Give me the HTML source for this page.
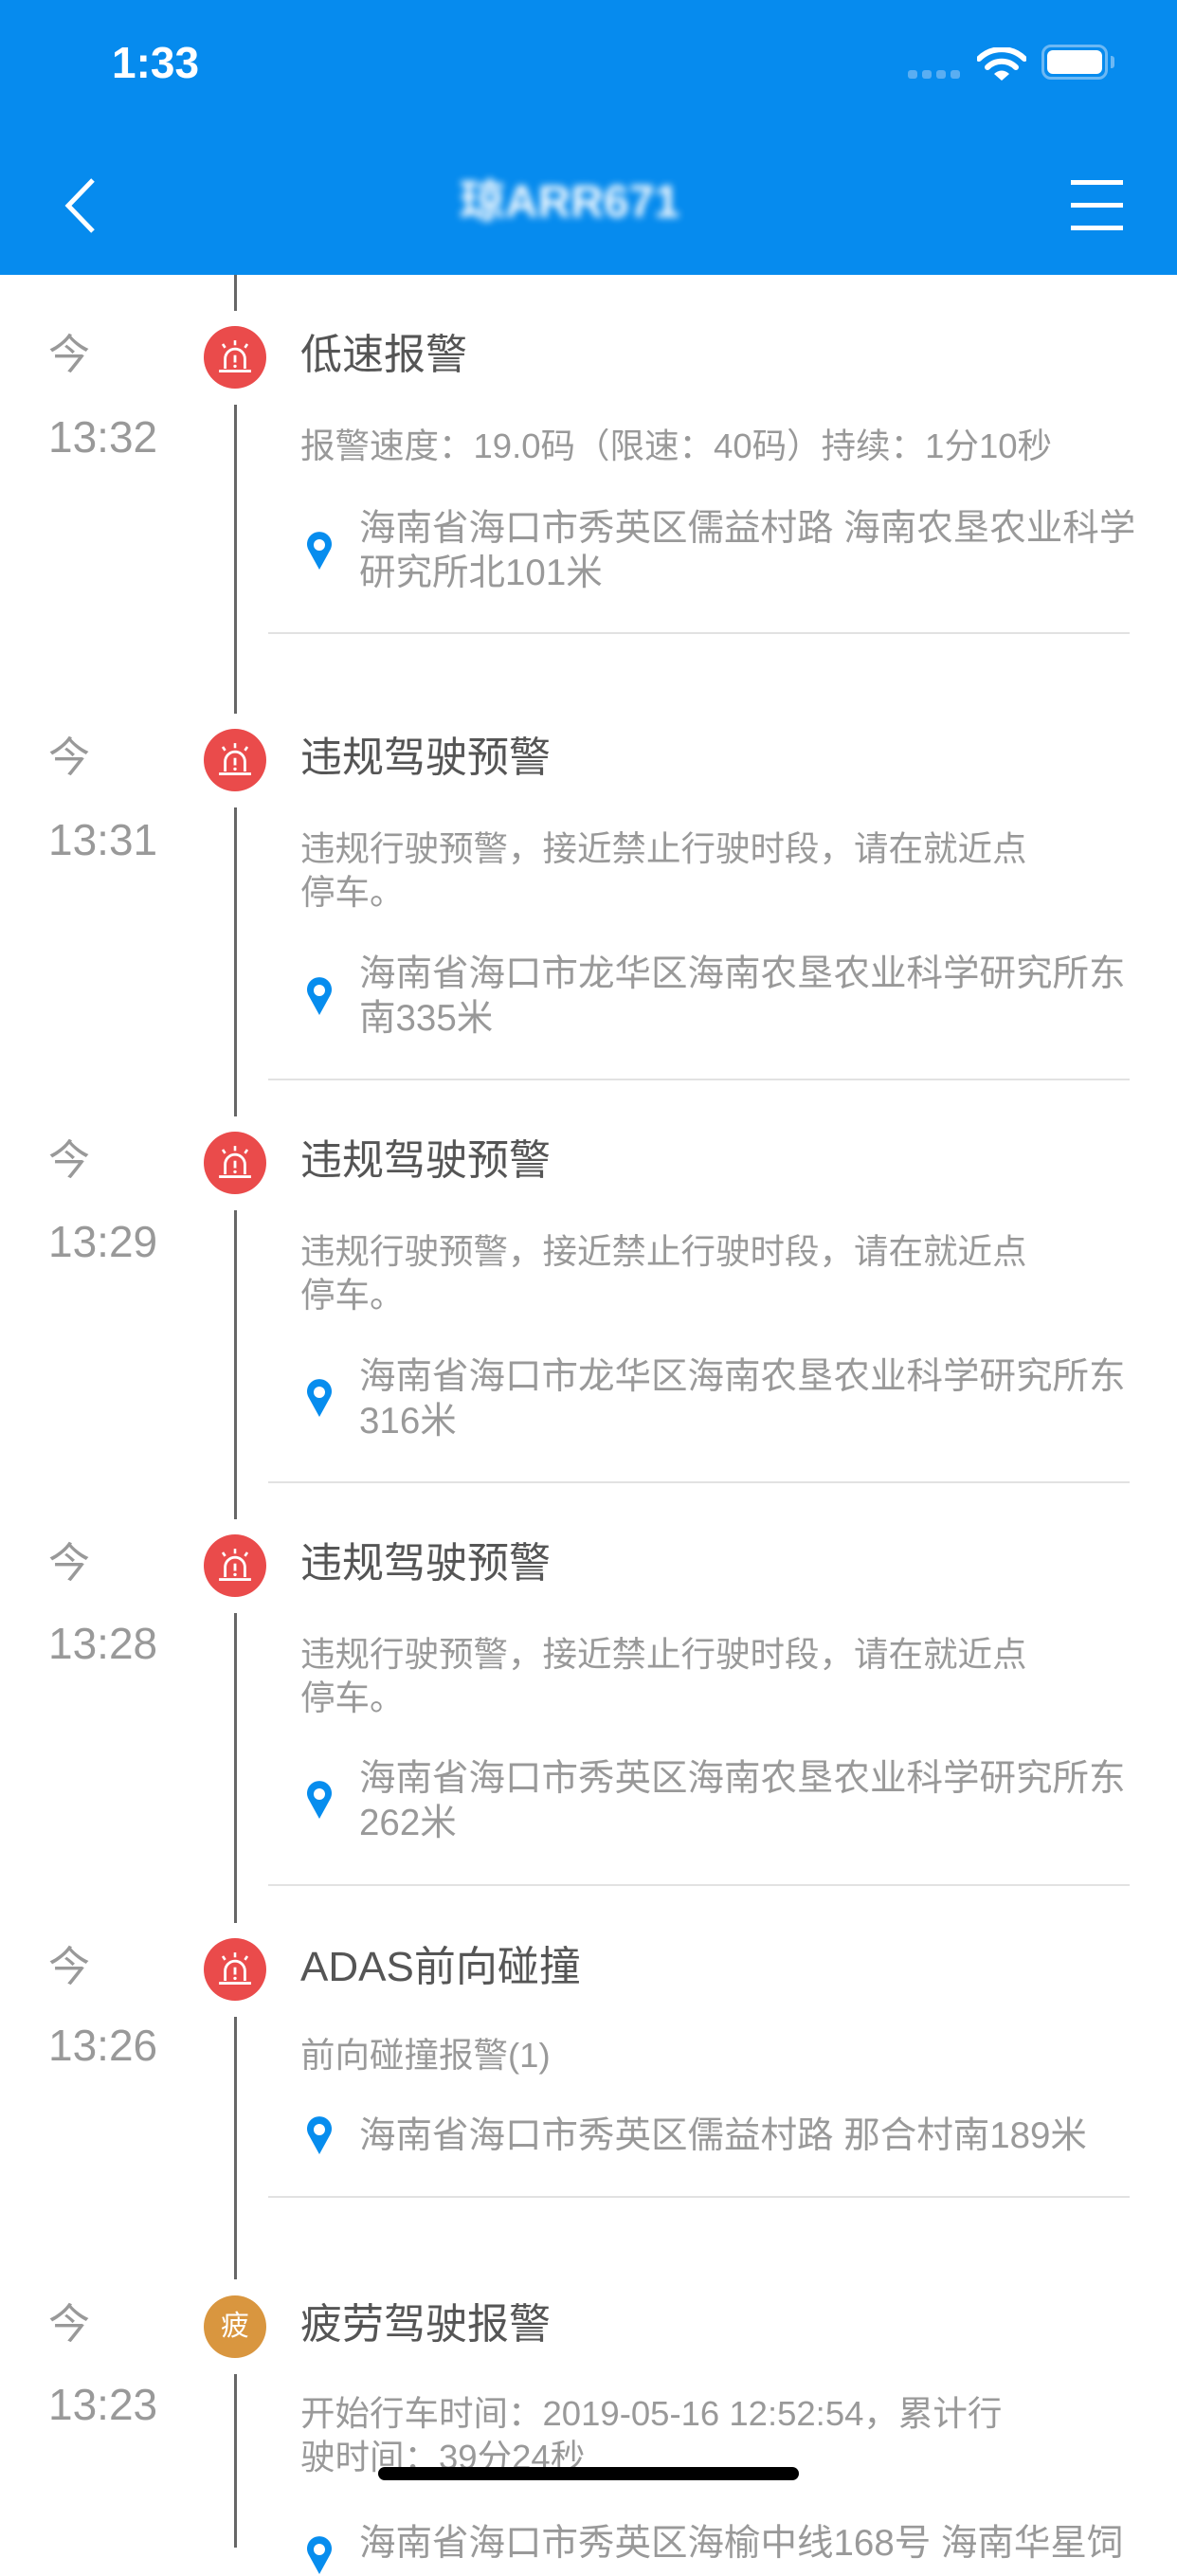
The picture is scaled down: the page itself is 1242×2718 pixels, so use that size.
<!DOCTYPE html>
<html><head><meta charset="utf-8"><style>
*{margin:0;padding:0;box-sizing:border-box}
body{width:1242px;height:2688px;background:#fff;position:relative;overflow:hidden;font-family:"Liberation Sans","Noto Sans CJK SC",sans-serif}
.hdr{position:absolute;left:0;top:0;width:1242px;height:290px;background:#068BEE}
.abs{position:absolute;white-space:nowrap}
.vl{position:absolute;left:247px;width:3px;background:#666}
.dot{position:absolute;left:215px;width:66px;height:66px;border-radius:50%;background:#EA4B4B}
.dot svg{position:absolute;left:7px;top:6px}
.jin{left:51px;font-size:44px;color:#999;line-height:60px}
.tm{left:51px;font-size:46px;color:#999;line-height:60px}
.tt{left:317px;font-size:44px;color:#555;line-height:60px}
.ds{left:317px;font-size:36.5px;color:#999;line-height:46px}
.ad{left:379px;font-size:38.5px;color:#999;line-height:47px}
.dv{position:absolute;left:283px;width:909px;height:2px;background:#e2e2e2}
.pin{position:absolute;left:323px}
</style></head><body>
<div class="hdr">
  <div class="abs" style="left:118px;top:36px;font-size:46px;color:#fff;line-height:60px;font-weight:bold">1:33</div>
  <div class="abs" style="left:958px;top:74px;width:10px;height:9px;border-radius:3px;background:#5aaef2"></div>
  <div class="abs" style="left:973px;top:74px;width:10px;height:9px;border-radius:3px;background:#5aaef2"></div>
  <div class="abs" style="left:988px;top:74px;width:10px;height:9px;border-radius:3px;background:#5aaef2"></div>
  <div class="abs" style="left:1003px;top:74px;width:10px;height:9px;border-radius:3px;background:#5aaef2"></div>
  <svg class="abs" style="left:1031px;top:50px" width="52" height="36" viewBox="0 0 52 36">
    <path d="M2 12 A34 34 0 0 1 50 12" stroke="#fff" stroke-width="6" fill="none" stroke-linecap="round"/>
    <path d="M11 21 A21 21 0 0 1 41 21" stroke="#fff" stroke-width="6" fill="none" stroke-linecap="round"/>
    <path d="M18 28 L26 35 L34 28 A11 11 0 0 0 18 28Z" fill="#fff"/>
  </svg>
  <div class="abs" style="left:1099px;top:47px;width:70px;height:37px;border:3px solid #6cb8f4;border-radius:10px"></div>
  <div class="abs" style="left:1105px;top:53px;width:58px;height:25px;background:#fff;border-radius:6px"></div>
  <div class="abs" style="left:1172px;top:59px;width:4px;height:13px;background:#6cb8f4;border-radius:0 3px 3px 0"></div>
  <svg class="abs" style="left:64px;top:186px" width="40" height="62"><path d="M34 4 L8 31 L34 58" stroke="#fff" stroke-width="5" fill="none"/></svg>
  <div class="abs" style="left:485px;top:184px;font-size:48px;color:#fff;line-height:60px;filter:blur(4px);font-weight:bold">琼ARR671</div>
  <div class="abs" style="left:1130px;top:190px;width:55px;height:5px;background:#fff"></div>
  <div class="abs" style="left:1130px;top:214px;width:55px;height:5px;background:#fff"></div>
  <div class="abs" style="left:1130px;top:238px;width:55px;height:5px;background:#fff"></div>
</div>

<div class="vl" style="top:290px;height:38px"></div>
<div class="vl" style="top:427px;height:326px"></div>
<div class="vl" style="top:852px;height:326px"></div>
<div class="vl" style="top:1277px;height:326px"></div>
<div class="vl" style="top:1702px;height:327px"></div>
<div class="vl" style="top:2128px;height:277px"></div>
<div class="vl" style="top:2505px;height:183px"></div>

<svg width="0" height="0" style="position:absolute"><defs><g id="sr">
<path d="M12 30 V22 A8 8 0 0 1 28 22 V30" stroke="#fff" stroke-width="2.2" fill="none"/>
<line x1="20" y1="19" x2="20" y2="25" stroke="#fff" stroke-width="2.2"/>
<circle cx="20" cy="28" r="1.3" fill="#fff"/>
<line x1="7" y1="32" x2="33" y2="32" stroke="#fff" stroke-width="2.2"/>
<line x1="20" y1="7" x2="20" y2="11" stroke="#fff" stroke-width="2"/>
<line x1="10" y1="10" x2="12" y2="13" stroke="#fff" stroke-width="2"/>
<line x1="30" y1="10" x2="28" y2="13" stroke="#fff" stroke-width="2"/>
</g>
<g id="pn"><path d="M14 40 L3 20 A13 13 0 1 1 25 20 Z" fill="#078DEE"/><circle cx="14" cy="14" r="6" fill="#fff"/></g>
</defs></svg>

<div class="abs jin" style="top:345px">今</div>
<div class="dot" style="top:344px"><svg width="52" height="52" viewBox="0 0 40 40"><use href="#sr"/></svg></div>
<div class="abs tt" style="top:345px">低速报警</div>
<div class="abs tm" style="top:431px">13:32</div>
<div class="abs ds" style="top:448px">报警速度：19.0码（限速：40码）持续：1分10秒</div>
<svg class="pin" style="top:561px" width="28" height="42"><use href="#pn"/></svg>
<div class="abs ad" style="top:534px">海南省海口市秀英区儒益村路 海南农垦农业科学<br>研究所北101米</div>
<div class="dv" style="top:667px"></div>

<div class="abs jin" style="top:770px">今</div>
<div class="dot" style="top:769px"><svg width="52" height="52" viewBox="0 0 40 40"><use href="#sr"/></svg></div>
<div class="abs tt" style="top:770px">违规驾驶预警</div>
<div class="abs tm" style="top:856px">13:31</div>
<div class="abs ds" style="top:873px">违规行驶预警，接近禁止行驶时段，请在就近点<br>停车。</div>
<svg class="pin" style="top:1031px" width="28" height="42"><use href="#pn"/></svg>
<div class="abs ad" style="top:1004px">海南省海口市龙华区海南农垦农业科学研究所东<br>南335米</div>
<div class="dv" style="top:1138px"></div>

<div class="abs jin" style="top:1195px">今</div>
<div class="dot" style="top:1194px"><svg width="52" height="52" viewBox="0 0 40 40"><use href="#sr"/></svg></div>
<div class="abs tt" style="top:1195px">违规驾驶预警</div>
<div class="abs tm" style="top:1280px">13:29</div>
<div class="abs ds" style="top:1298px">违规行驶预警，接近禁止行驶时段，请在就近点<br>停车。</div>
<svg class="pin" style="top:1455px" width="28" height="42"><use href="#pn"/></svg>
<div class="abs ad" style="top:1429px">海南省海口市龙华区海南农垦农业科学研究所东<br>316米</div>
<div class="dv" style="top:1563px"></div>

<div class="abs jin" style="top:1620px">今</div>
<div class="dot" style="top:1619px"><svg width="52" height="52" viewBox="0 0 40 40"><use href="#sr"/></svg></div>
<div class="abs tt" style="top:1620px">违规驾驶预警</div>
<div class="abs tm" style="top:1704px">13:28</div>
<div class="abs ds" style="top:1723px">违规行驶预警，接近禁止行驶时段，请在就近点<br>停车。</div>
<svg class="pin" style="top:1879px" width="28" height="42"><use href="#pn"/></svg>
<div class="abs ad" style="top:1853px">海南省海口市秀英区海南农垦农业科学研究所东<br>262米</div>
<div class="dv" style="top:1988px"></div>

<div class="abs jin" style="top:2046px">今</div>
<div class="dot" style="top:2045px"><svg width="52" height="52" viewBox="0 0 40 40"><use href="#sr"/></svg></div>
<div class="abs tt" style="top:2046px">ADAS前向碰撞</div>
<div class="abs tm" style="top:2128px">13:26</div>
<div class="abs ds" style="top:2146px">前向碰撞报警(1)</div>
<svg class="pin" style="top:2233px" width="28" height="42"><use href="#pn"/></svg>
<div class="abs ad" style="top:2230px">海南省海口市秀英区儒益村路 那合村南189米</div>
<div class="dv" style="top:2317px"></div>

<div class="abs jin" style="top:2423px">今</div>
<div class="dot" style="top:2422px;background:#D9963F"><div class="abs" style="left:0;top:0;width:66px;line-height:66px;text-align:center;color:#fff;font-size:30px">疲</div></div>
<div class="abs tt" style="top:2423px">疲劳驾驶报警</div>
<div class="abs tm" style="top:2507px">13:23</div>
<div class="abs ds" style="top:2524px">开始行车时间：2019-05-16 12:52:54，累计行<br>驶时间：39分24秒</div>
<svg class="pin" style="top:2676px" width="28" height="42"><use href="#pn"/></svg>
<div class="abs ad" style="top:2660px">海南省海口市秀英区海榆中线168号 海南华星饲</div>

<div class="abs" style="left:399px;top:2603px;width:444px;height:14px;border-radius:7px;background:#000"></div>
</body></html>
